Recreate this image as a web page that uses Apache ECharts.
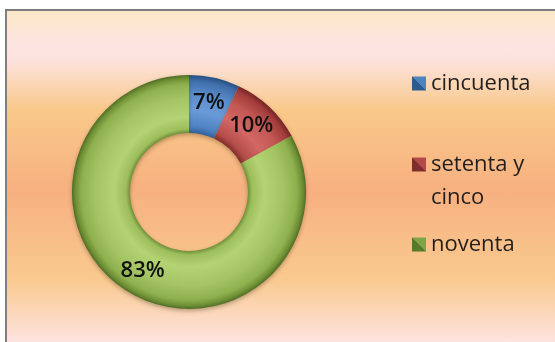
<!DOCTYPE html>
<html>
<head>
<meta charset="utf-8">
<script src="https://cdn.jsdelivr.net/npm/echarts@6/dist/echarts.min.js"></script>
<style>
  html, body { margin: 0; padding: 0; background: #ffffff; }
  #frame {
    position: absolute; left: 5px; top: 9px; width: 548px; height: 331px;
    border-left: 2px solid #808080; border-top: 2px solid #7c7c7c;
    background: linear-gradient(to bottom,
      #fbe8c6 0px, #fce4e2 34px, #fce2dc 50px, #f9c98a 99px,
      #f7b080 179px, #f9ca90 269px, #fde3e0 331px);
  }
  #chart { position: absolute; left: 0; top: 0; width: 555px; height: 342px; }
</style>
</head>
<body>
<div id="frame"></div>
<div id="chart"></div>
<script>
// Ring chart: share of each answer
const categories = ['cincuenta', 'setenta y cinco', 'noventa'];
const values = [7, 10, 83];
const legendLabels = ['cincuenta', '\nsetenta y\ncinco', 'noventa'];

const CX = 189, CY = 192, R_OUT = 117, R_IN = 59;

// tube-like radial shading for each slice
function ringShade(stops) {
  return {
    type: 'radial', x: CX, y: CY, r: R_OUT, global: true,
    colorStops: stops.map(s => ({ offset: s[0], color: s[1] }))
  };
}
const sliceColors = [
  ringShade([[0.5, '#2f5e98'], [0.56, '#4f82c2'], [0.7, '#6a9bd8'], [0.84, '#5a8bca'], [0.95, '#3f6eab'], [1, '#264d80']]),
  ringShade([[0.5, '#7e2a28'], [0.56, '#b44d4a'], [0.7, '#d26764'], [0.84, '#c45855'], [0.95, '#a23d3b'], [1, '#762324']]),
  ringShade([[0.5, '#6a8a34'], [0.54, '#9dbe5c'], [0.64, '#b4d374'], [0.8, '#a5c565'], [0.92, '#8fb04e'], [0.97, '#6f8f35'], [1, '#4f6d25']])
];
// bevelled legend swatches: dark lower-left half, light upper-right half
function swatch(dark, light) {
  return {
    type: 'linear', x: 0, y: 1, x2: 1, y2: 0,
    colorStops: [
      { offset: 0, color: dark }, { offset: 0.5, color: dark },
      { offset: 0.5, color: light }, { offset: 1, color: light }
    ]
  };
}
const swatchColors = [
  swatch('#2f5a8e', '#4f81bd'),
  swatch('#7e2f2d', '#b24a47'),
  swatch('#557a2a', '#7fa447')
];
const legendTops = [67, 115, 228];

const chart = echarts.init(document.getElementById('chart'), null, { renderer: 'canvas' });

const legends = categories.map((name, i) => ({
  orient: 'vertical',
  left: 412,
  top: legendTops[i],
  padding: 0,
  itemWidth: 14,
  itemHeight: 14,
  icon: 'rect',
  selectedMode: false,
  data: [{ name: name, itemStyle: { color: swatchColors[i] } }],
  formatter: () => legendLabels[i],
  textStyle: {
    fontFamily: 'Open Sans', fontSize: 22, color: '#221e1c', lineHeight: 33
  }
}));

chart.setOption({
  backgroundColor: 'transparent',
  animation: false,
  legend: legends,
  series: [{
    type: 'pie',
    center: [CX, CY],
    radius: [R_IN, R_OUT],
    startAngle: 90,
    clockwise: true,
    avoidLabelOverlap: false,
    emphasis: { disabled: true },
    data: categories.map((name, i) => ({
      name: name,
      value: values[i],
      itemStyle: { color: sliceColors[i] }
    })),
    itemStyle: {
      borderWidth: 0,
      shadowBlur: 4,
      shadowColor: 'rgba(60,40,10,0.35)',
      shadowOffsetY: 2
    },
    label: {
      show: true,
      position: 'inside',
      formatter: p => p.value + '%',
      fontFamily: 'Open Sans',
      fontSize: 22,
      fontWeight: 600,
      color: '#111111'
    },
    labelLine: { show: false }
  }]
});
</script>
</body>
</html>
